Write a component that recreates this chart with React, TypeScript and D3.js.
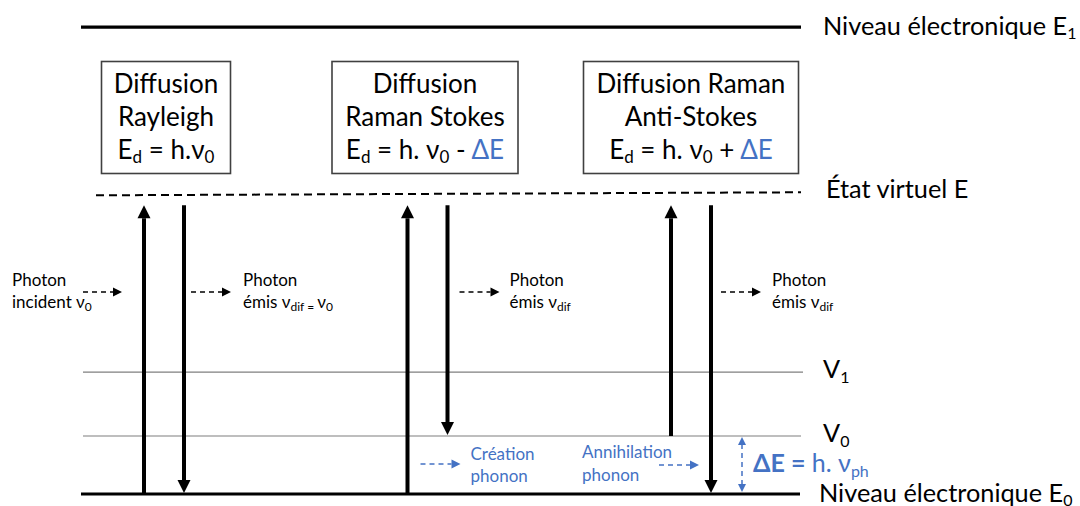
import React from "react";
import * as d3 from "d3";

// ---- data ----
const LEVEL_NAMES = ["E0", "V0", "V1", "Virtual", "E1"];
const LEVEL_ENERGIES = [0, 1, 2.1, 5.15, 8.05];
const PROCESS_NAMES = ["Rayleigh", "Stokes", "Anti-Stokes"];
const PROCESS_FROM = ["E0", "E0", "V0"];
const PROCESS_TO = ["E0", "V0", "E0"];
const BOX_TITLES = [["Diffusion", "Rayleigh"], ["Diffusion", "Raman Stokes"], ["Diffusion Raman", "Anti-Stokes"]];
const BOX_SIGN = ["", "-", "+"];

const W = 1080, H = 506;
const FONT = "Lato, Carlito, 'Open Sans', sans-serif";
const BLUE = "#4472C4";

const energy = (n: string) => LEVEL_ENERGIES[LEVEL_NAMES.indexOf(n)];

function VArrow({ x, y1, y2, color = "#000", w = 4, head = 13, hw = 13 }: any) {
  const dir = Math.sign(y2 - y1);
  return (
    <g>
      <line x1={x} x2={x} y1={y1} y2={y2 - dir * head} stroke={color} strokeWidth={w} />
      <polygon points={`${x - hw / 2},${y2 - dir * head} ${x + hw / 2},${y2 - dir * head} ${x},${y2}`} fill={color} />
    </g>
  );
}

function HArrow({ x1, x2, y, color = "#000" }: any) {
  const hl = 9;
  return (
    <g>
      <line x1={x1} x2={x2 - hl} y1={y} y2={y} stroke={color} strokeWidth={1.5} strokeDasharray="5 4" />
      <polygon points={`${x2 - hl},${y - 4.5} ${x2 - hl},${y + 4.5} ${x2},${y}`} fill={color} />
    </g>
  );
}

export default function App() {
  const y = d3.scaleLinear().domain([0, 8]).range([494, 30]);
  const x = d3.scalePoint<string>().domain(PROCESS_NAMES).range([164, 691]);
  const yVirt = y(energy("Virtual")) - 1;
  const tipY = yVirt + 11;
  const boxW = [129, 186, 215];
  const boxCx = [166, 425, 691];
  const big = 26, lab = 25.3, small = 17;

  return (
    <svg width={W} height={H} style={{ position: "absolute", left: 0, top: 0, background: "#fff" }} fontFamily={FONT}>
      {/* levels */}
      <line x1={81} x2={801} y1={y(energy("E1"))} y2={y(energy("E1"))} stroke="#000" strokeWidth={3.2} />
      <line x1={81} x2={800} y1={y(energy("E0"))} y2={y(energy("E0"))} stroke="#000" strokeWidth={3.2} />
      <line x1={83} x2={803} y1={y(energy("V1"))} y2={y(energy("V1"))} stroke="#7f7f7f" strokeWidth={1.2} />
      <line x1={83} x2={801} y1={y(energy("V0"))} y2={y(energy("V0"))} stroke="#7f7f7f" strokeWidth={1.2} />
      <line x1={96} x2={801} y1={yVirt + 1} y2={yVirt - 2} stroke="#000" strokeWidth={2} strokeDasharray="8 5" />

      {/* right labels */}
      <g fontSize={lab} fill="#000">
        <text x={823} y={y(energy("E1")) + 8}>Niveau électronique E<tspan fontSize={16} dy={4}>1</tspan></text>
        <text x={826} y={yVirt + 4}>État virtuel E</text>
        <text x={823} y={y(energy("V1")) + 6}>V<tspan fontSize={16} dy={5}>1</tspan></text>
        <text x={823} y={y(energy("V0")) + 6}>V<tspan fontSize={16} dy={5}>0</tspan></text>
        <text x={819} y={y(energy("E0")) + 8}>Niveau électronique E<tspan fontSize={16} dy={4}>0</tspan></text>
      </g>

      {/* boxes */}
      {PROCESS_NAMES.map((p, i) => {
        const cx = boxCx[i];
        return (
          <g key={p}>
            <rect x={cx - boxW[i] / 2} y={61.5} width={boxW[i]} height={112} fill="#fff" stroke="#404040" strokeWidth={1.6} />
            <g fontSize={big} textAnchor="middle" fill="#000">
              <text x={cx} y={93}>{BOX_TITLES[i][0]}</text>
              <text x={cx} y={126}>{BOX_TITLES[i][1]}</text>
              <text x={cx} y={159}>
                E<tspan fontSize={17} dy={4}>d</tspan>
                <tspan dy={-4}>{i === 0 ? " = h.ν" : " = h. ν"}</tspan>
                <tspan fontSize={17} dy={4}>0</tspan>
                {i > 0 ? <tspan dy={-4}>{` ${BOX_SIGN[i]} `}</tspan> : null}
                {i > 0 ? <tspan fill={BLUE}>ΔE</tspan> : null}
              </text>
            </g>
          </g>
        );
      })}

      {/* transitions */}
      {PROCESS_NAMES.map((p, i) => {
        const cx = x(p) as number;
        return (
          <g key={p}>
            <VArrow x={cx - 20} y1={y(energy(PROCESS_FROM[i]))} y2={tipY} />
            <VArrow x={cx + 20} y1={tipY} y2={y(energy(PROCESS_TO[i])) - 1} />
          </g>
        );
      })}

      {/* photon labels */}
      {(() => {
        const c0 = x("Rayleigh") as number, c1 = x("Stokes") as number, c2 = x("Anti-Stokes") as number;
        const ly = 292;
        return (
          <g fontSize={small} fill="#000">
            <HArrow x1={c0 - 81} x2={c0 - 42} y={ly} />
            <text x={12} y={286}>Photon</text>
            <text x={12} y={308}>incident ν<tspan fontSize={12} dy={3}>0</tspan></text>

            <HArrow x1={c0 + 27} x2={c0 + 67} y={ly} />
            <text x={c0 + 79} y={286}>Photon</text>
            <text x={c0 + 79} y={308}>émis ν<tspan fontSize={12} dy={3}>dif = </tspan><tspan dy={-3}>ν</tspan><tspan fontSize={12} dy={3}>0</tspan></text>

            <HArrow x1={c1 + 32} x2={c1 + 72} y={ly} />
            <text x={c1 + 82} y={286}>Photon</text>
            <text x={c1 + 82} y={308}>émis ν<tspan fontSize={12} dy={3}>dif</tspan></text>

            <HArrow x1={c2 + 30} x2={c2 + 70} y={ly} />
            <text x={c2 + 81} y={286}>Photon</text>
            <text x={c2 + 81} y={308}>émis ν<tspan fontSize={12} dy={3}>dif</tspan></text>

            <g fill={BLUE}>
              <HArrow x1={c1 - 7} x2={c1 + 33} y={464} color={BLUE} />
              <text x={c1 + 43} y={460}>Création</text>
              <text x={c1 + 43} y={482}>phonon</text>

              <HArrow x1={c2 - 32} x2={c2 + 8} y={465} color={BLUE} />
              <text x={582} y={458}>Annihilation</text>
              <text x={582} y={481}>phonon</text>
            </g>
          </g>
        );
      })()}

      {/* delta E */}
      {(() => {
        const yt = y(energy("V0")) + 1, yb = y(energy("E0")) - 2, xx = 742;
        return (
          <g>
            <line x1={xx} x2={xx} y1={yt + 7} y2={yb - 7} stroke={BLUE} strokeWidth={1.5} strokeDasharray="5 4" />
            <polygon points={`${xx - 4},${yt + 8} ${xx + 4},${yt + 8} ${xx},${yt}`} fill={BLUE} />
            <polygon points={`${xx - 4},${yb - 8} ${xx + 4},${yb - 8} ${xx},${yb}`} fill={BLUE} />
            <text x={753} y={472} fontSize={25} fill={BLUE}>
              <tspan fontWeight="bold">ΔE =</tspan> h. ν<tspan fontSize={16} dy={5}>ph</tspan>
            </text>
          </g>
        );
      })()}
    </svg>
  );
}
